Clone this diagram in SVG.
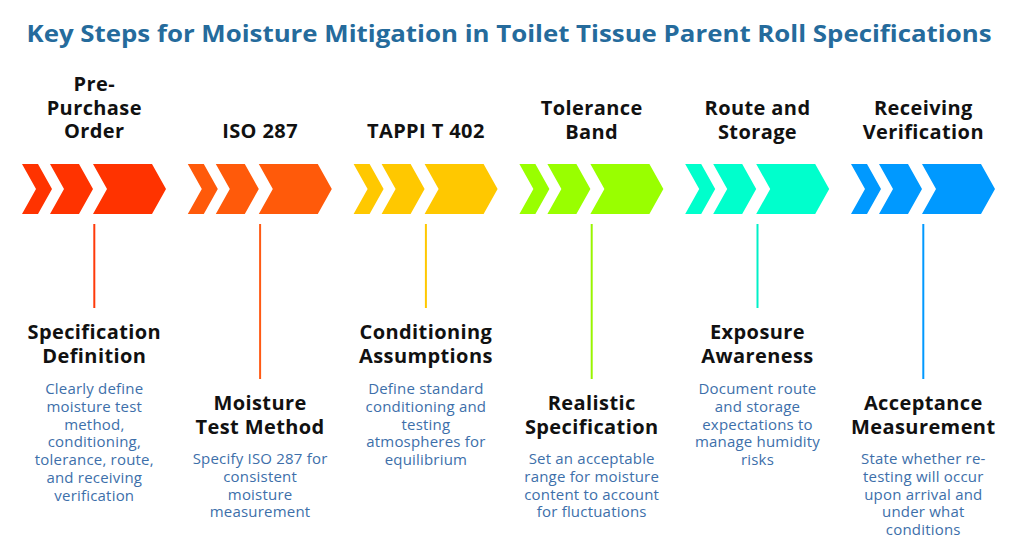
<svg xmlns="http://www.w3.org/2000/svg" width="1024" height="556" viewBox="0 0 1024 556">
<defs>
<style>
.title{font-family:"Open Sans","Liberation Sans",sans-serif;font-weight:700;font-size:23px;fill:#256B9C;text-anchor:middle}
.h{font-family:"Open Sans","Liberation Sans",sans-serif;font-weight:700;font-size:20px;letter-spacing:0.4px;fill:#111;text-anchor:middle}
.d{font-family:"Open Sans","Liberation Sans",sans-serif;font-weight:400;font-size:15px;letter-spacing:0.2px;fill:#3D6FAA;text-anchor:middle}
.ln{stroke-width:2;fill:none}
</style>
<g id="chev">
<polygon points="22,164 38,164 52,189 38,214 22,214 36,189"/>
<polygon points="50,164 79,164 93,189 79,214 50,214 64,189"/>
<polygon points="93,164 152,164 166,189 152,214 93,214 107,189"/>
</g>
</defs>
<rect width="1024" height="556" fill="#fff"/>
<text class="title" x="509" y="42" textLength="965" lengthAdjust="spacingAndGlyphs">Key Steps for Moisture Mitigation in Toilet Tissue Parent Roll Specifications</text>

<g id="connectors">
<line class="ln" x1="94.3" y1="224" x2="94.3" y2="308" stroke="#FF3A0A"/>
<line class="ln" x1="260.1" y1="224" x2="260.1" y2="379" stroke="#FF5A14"/>
<line class="ln" x1="425.9" y1="224" x2="425.9" y2="308" stroke="#FFC800"/>
<line class="ln" x1="591.7" y1="224" x2="591.7" y2="379" stroke="#99F500"/>
<line class="ln" x1="757.5" y1="224" x2="757.5" y2="308" stroke="#00F0C8"/>
<line class="ln" x1="923.3" y1="224" x2="923.3" y2="379" stroke="#0099FF"/>
</g>

<g id="step1">
<use href="#chev" fill="#FF3300"/>
<text class="h" y="91"><tspan x="94.3">Pre-</tspan><tspan x="94.3" dy="23.5">Purchase</tspan><tspan x="94.3" dy="23.5">Order</tspan></text>
<text class="h" y="339"><tspan x="94.3">Specification</tspan><tspan x="94.3" dy="24">Definition</tspan></text>
<text class="d" y="394"><tspan x="94.3">Clearly define</tspan><tspan x="94.3" dy="17.8">moisture test</tspan><tspan x="94.3" dy="17.8">method,</tspan><tspan x="94.3" dy="17.8">conditioning,</tspan><tspan x="94.3" dy="17.8">tolerance, route,</tspan><tspan x="94.3" dy="17.8">and receiving</tspan><tspan x="94.3" dy="17.8">verification</tspan></text>
</g>

<g id="step2">
<use href="#chev" x="165.8" fill="#FF5A0A"/>
<text class="h" x="260.1" y="138">ISO 287</text>
<text class="h" y="410"><tspan x="260.1">Moisture</tspan><tspan x="260.1" dy="24">Test Method</tspan></text>
<text class="d" y="464"><tspan x="260.1">Specify ISO 287 for</tspan><tspan x="260.1" dy="17.8">consistent</tspan><tspan x="260.1" dy="17.8">moisture</tspan><tspan x="260.1" dy="17.8">measurement</tspan></text>
</g>

<g id="step3">
<use href="#chev" x="331.6" fill="#FFC800"/>
<text class="h" x="425.9" y="138">TAPPI T 402</text>
<text class="h" y="339"><tspan x="425.9">Conditioning</tspan><tspan x="425.9" dy="24">Assumptions</tspan></text>
<text class="d" y="394"><tspan x="425.9">Define standard</tspan><tspan x="425.9" dy="17.8">conditioning and</tspan><tspan x="425.9" dy="17.8">testing</tspan><tspan x="425.9" dy="17.8">atmospheres for</tspan><tspan x="425.9" dy="17.8">equilibrium</tspan></text>
</g>

<g id="step4">
<use href="#chev" x="497.4" fill="#99FF00"/>
<text class="h" y="115"><tspan x="591.7">Tolerance</tspan><tspan x="591.7" dy="23.5">Band</tspan></text>
<text class="h" y="410"><tspan x="591.7">Realistic</tspan><tspan x="591.7" dy="24">Specification</tspan></text>
<text class="d" y="464"><tspan x="591.7">Set an acceptable</tspan><tspan x="591.7" dy="17.8">range for moisture</tspan><tspan x="591.7" dy="17.8">content to account</tspan><tspan x="591.7" dy="17.8">for fluctuations</tspan></text>
</g>

<g id="step5">
<use href="#chev" x="663.2" fill="#00FFCC"/>
<text class="h" y="115"><tspan x="757.5">Route and</tspan><tspan x="757.5" dy="23.5">Storage</tspan></text>
<text class="h" y="339"><tspan x="757.5">Exposure</tspan><tspan x="757.5" dy="24">Awareness</tspan></text>
<text class="d" y="394"><tspan x="757.5">Document route</tspan><tspan x="757.5" dy="17.8">and storage</tspan><tspan x="757.5" dy="17.8">expectations to</tspan><tspan x="757.5" dy="17.8">manage humidity</tspan><tspan x="757.5" dy="17.8">risks</tspan></text>
</g>

<g id="step6">
<use href="#chev" x="829" fill="#0099FF"/>
<text class="h" y="115"><tspan x="923.3">Receiving</tspan><tspan x="923.3" dy="23.5">Verification</tspan></text>
<text class="h" y="410"><tspan x="923.3">Acceptance</tspan><tspan x="923.3" dy="24">Measurement</tspan></text>
<text class="d" y="464"><tspan x="923.3">State whether re-</tspan><tspan x="923.3" dy="17.8">testing will occur</tspan><tspan x="923.3" dy="17.8">upon arrival and</tspan><tspan x="923.3" dy="17.8">under what</tspan><tspan x="923.3" dy="17.8">conditions</tspan></text>
</g>
</svg>
